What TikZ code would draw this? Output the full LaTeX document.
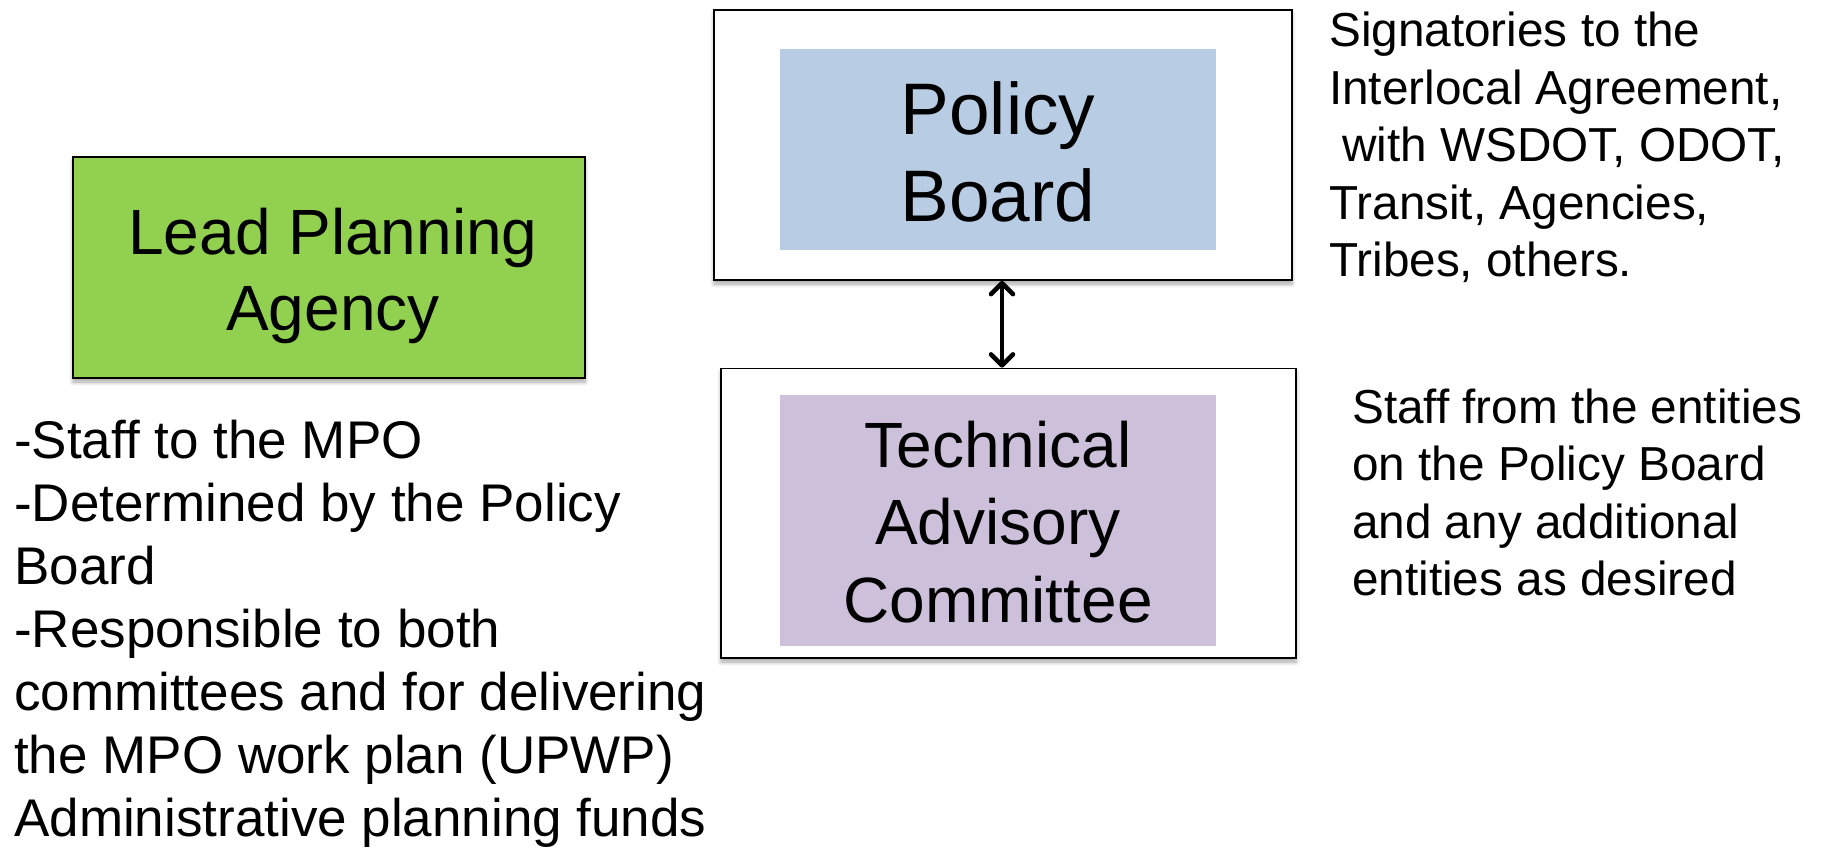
\documentclass[tikz,border=0pt]{standalone}
\usepackage{fontspec}
\setmainfont{Liberation Sans}
\usetikzlibrary{arrows.meta,shadows.blur}
\definecolor{leadgreen}{HTML}{92D050}
\definecolor{pbblue}{HTML}{B8CCE4}
\definecolor{tacpurple}{HTML}{CCC0DA}
\tikzset{
  shadowed/.style={blur shadow={shadow blur steps=6, shadow xshift=0pt, shadow yshift=-4pt, shadow blur radius=4pt, shadow opacity=35}},
  outerbox/.style={draw=black, line width=1.8pt, fill=white, rectangle, inner sep=0pt, shadowed},
  leadbox/.style={draw=black, line width=1.5pt, fill=leadgreen, rectangle, inner sep=0pt, shadowed},
  innerbox/.style={rectangle, draw=none, inner sep=0pt},
  txt/.style={inner sep=0pt, align=left, text=black},
  ctxt/.style={inner sep=0pt, align=center, text=black},
  barb/.tip={Straight Barb[length=11pt,width=22pt,line width=4.5pt,round]},
  link/.style={line width=4.5pt, barb-barb},
}
\begin{document}
\begin{tikzpicture}[x=1pt,y=-1pt]
\useasboundingbox (0,0) rectangle (1823,849);
% Lead planning agency
\node[leadbox, minimum width=512pt, minimum height=221pt] (lead) at (329,267.5) {};
\node[ctxt, anchor=base, font=\fontsize{64}{76}\selectfont] (leadt) at (333,330) {Lead Planning\\Agency};
% Policy board
\node[outerbox, minimum width=578pt, minimum height=270pt] (pbo) at (1003,145) {};
\node[innerbox, fill=pbblue, minimum width=436pt, minimum height=201pt] (pb) at (998,149.5) {};
\node[ctxt, anchor=base, font=\fontsize{73}{87}\selectfont] (pbt) at (998,221) {Policy\\Board};
% TAC
\node[outerbox, minimum width=575pt, minimum height=289.5pt] (taco) at (1008.5,513.25) {};
\node[innerbox, fill=tacpurple, minimum width=436pt, minimum height=251pt] (tac) at (998,520.5) {};
\node[ctxt, anchor=base, font=\fontsize{64}{77.5}\selectfont] (tact) at (998,622) {Technical\\Advisory\\Committee};
% arrow
\coordinate (atop) at (1002,281);
\coordinate (abot) at (1002,368);
\draw[link] (pbo.south -| atop) -- (taco.north -| abot);
% right texts
\node[txt, anchor=base west, font=\fontsize{47.7}{57.5}\selectfont] (sig) at (1329,276.5) {Signatories to the\\Interlocal Agreement,\\\ with WSDOT, ODOT,\\Transit, Agencies,\\Tribes, others.};
\node[txt, anchor=base west, font=\fontsize{47.7}{57.5}\selectfont] (staff) at (1352,595.5) {Staff from the entities\\on the Policy Board\\and any additional\\entities as desired};
% left text
\node[txt, anchor=base west, font=\fontsize{53}{63}\selectfont] (left) at (14,836) {-Staff to the MPO\\-Determined by the Policy\\Board\\-Responsible to both\\committees and for delivering\\the MPO work plan (UPWP)\\Administrative planning funds};
\end{tikzpicture}
\end{document}
